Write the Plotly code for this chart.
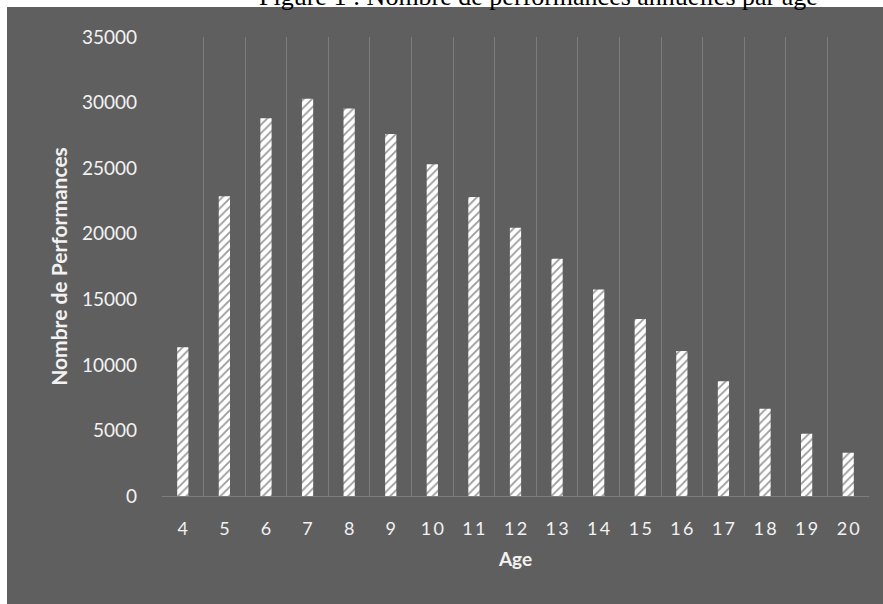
import plotly.graph_objects as go

# Number of performances per age
ages = ["4", "5", "6", "7", "8", "9", "10", "11", "12", "13", "14", "15", "16", "17", "18", "19", "20"]
performances = [11350, 22850, 28800, 30300, 29550, 27600, 25300, 22800, 20450,
                18100, 15750, 13500, 11050, 8750, 6650, 4750, 3300]
y_ticks = [0, 5000, 10000, 15000, 20000, 25000, 30000, 35000]

title_text = "Figure 1 : Nombre de performances annuelles par âge"
x_title = "Age"
y_title = "Nombre de Performances"

# spaced digits for the category labels
x_labels = ["\u2009".join(a) for a in ages]

panel = "#5f5f5f"
grid = "#7d7d7d"
label_col = "#f2f2f2"
font_family = "Lato, 'Open Sans', sans-serif"

fig = go.Figure(
    go.Bar(
        x=ages,
        y=performances,
        marker=dict(
            color="white",
            line=dict(width=0),
            pattern=dict(shape="/", fgcolor="#9a9a9a", bgcolor="white",
                         size=6, solidity=0.3, fillmode="replace"),
        ),
        hoverinfo="x+y",
    )
)

W, H = 883, 604
L, R, T, B = 162, 14, 37, 108
pw, ph = W - L - R, H - T - B

def px_to_paper_x(px):
    return (px - L) / pw

def px_to_paper_y(py):
    return (H - B - py) / ph

fig.add_shape(
    type="rect", xref="paper", yref="paper", layer="below",
    x0=px_to_paper_x(7), x1=px_to_paper_x(W + 5),
    y0=px_to_paper_y(H + 5), y1=px_to_paper_y(7),
    fillcolor=panel, line=dict(width=0),
)

fig.add_annotation(
    text=title_text, xref="paper", yref="paper",
    x=px_to_paper_x(538), y=px_to_paper_y(-4),
    xanchor="center", yanchor="middle", showarrow=False,
    font=dict(family="'Liberation Serif', 'Times New Roman', serif", size=26, color="black"),
)

fig.update_layout(
    width=W, height=H,
    margin=dict(l=L, r=R, t=T, b=B, pad=0),
    paper_bgcolor="white",
    plot_bgcolor="rgba(0,0,0,0)",
    bargap=0.73,
    showlegend=False,
    font=dict(family=font_family, color=label_col),
    xaxis=dict(
        type="category",
        tickmode="array", tickvals=ages, ticktext=x_labels,
        tickson="boundaries",
        showgrid=True, gridcolor=grid, gridwidth=1,
        showline=True, linecolor=grid, linewidth=1.2,
        ticks="", ticklabelstandoff=16,
        tickfont=dict(size=18, color=label_col),
        title=dict(text=x_title, standoff=14,
                   font=dict(size=19, color=label_col, family=font_family, weight="bold")),
    ),
    yaxis=dict(
        range=[0, 35000],
        tickmode="array", tickvals=y_ticks, ticktext=[str(v) for v in y_ticks],
        showgrid=False, zeroline=False, showline=False,
        ticks="", ticklabelstandoff=24,
        tickfont=dict(size=19, color=label_col),
        title=dict(text=y_title, standoff=8,
                   font=dict(size=21, color=label_col, family=font_family, weight="bold")),
    ),
)

fig.write_html("out.html")
